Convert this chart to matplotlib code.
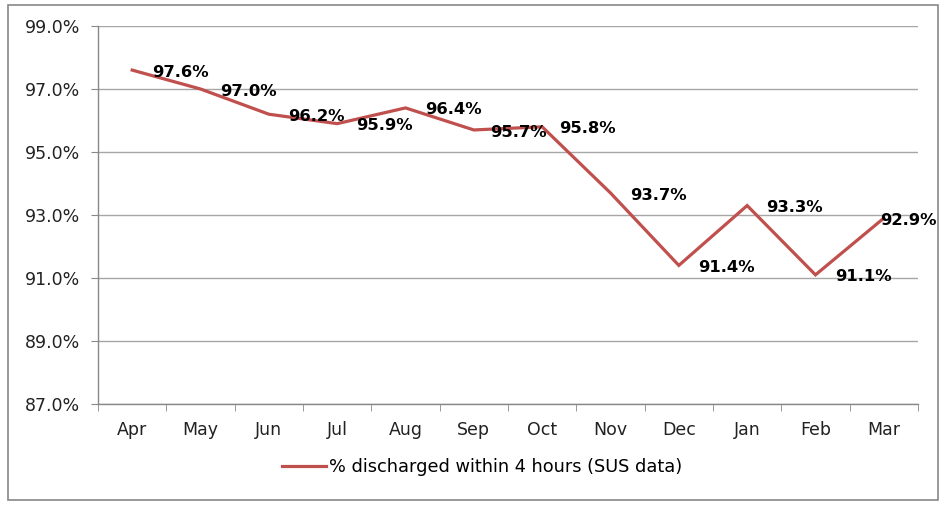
import matplotlib
matplotlib.use("Agg")
import matplotlib.pyplot as plt
from matplotlib.patches import Rectangle

months = ["Apr", "May", "Jun", "Jul", "Aug", "Sep", "Oct", "Nov", "Dec", "Jan", "Feb", "Mar"]
pct_discharged = [97.6, 97.0, 96.2, 95.9, 96.4, 95.7, 95.8, 93.7, 91.4, 93.3, 91.1, 92.9]
series_name = "% discharged within 4 hours (SUS data)"
y_ticks = [87.0, 89.0, 91.0, 93.0, 95.0, 97.0, 99.0]

fig = plt.figure(figsize=(9.39, 5.05), dpi=100)
ax = fig.add_axes([0.1044, 0.2, 0.8732, 0.7485])

x = list(range(len(months)))
line_color = "#C0504D"
ax.plot(x, pct_discharged, color=line_color, linewidth=2.3, solid_joinstyle="miter",
        label=series_name, zorder=3)

ax.set_xlim(-0.5, len(months) - 0.5)
ax.set_ylim(87.0, 99.0)
ax.set_yticks(y_ticks)
ax.set_yticklabels([f"{v:.1f}%" for v in y_ticks], fontsize=12.5, color="#222222")
ax.set_xticks(x)
ax.set_xticklabels(months, fontsize=12.5, color="#222222")
ax.set_xticks([i - 0.5 for i in range(len(months) + 1)], minor=True)
ax.tick_params(axis="x", which="major", length=0, pad=12)
ax.tick_params(axis="x", which="minor", length=5, color="#888888", direction="out")
ax.tick_params(axis="y", which="major", length=5, color="#888888", direction="out", pad=8)

ax.grid(axis="y", color="#A6A6A6", linewidth=1.0)
ax.set_axisbelow(True)
for s in ["top", "right"]:
    ax.spines[s].set_visible(False)
for s in ["left", "bottom"]:
    ax.spines[s].set_color("#888888")
    ax.spines[s].set_linewidth(1.0)

for i, v in enumerate(pct_discharged):
    dx = 14
    if i in (5, 6):
        dx = 12
    if i == len(months) - 1:
        dx = -3
    ax.annotate(f"{v:.1f}%", (i, v), xytext=(dx, -1.5), textcoords="offset points",
                ha="left", va="center", fontsize=11.8, fontweight="bold", color="black",
                annotation_clip=False, zorder=4)

fig.legend(loc="center", bbox_to_anchor=(0.513, 0.075), frameon=False,
           fontsize=12.8, handlelength=2.5, handletextpad=0.15)

fig.patches.append(Rectangle((8 / 939, 5 / 505), 930 / 939, 495 / 505, transform=fig.transFigure,
                             fill=False, edgecolor="#888888", linewidth=1.2))

fig.savefig("out.png", dpi=100)
